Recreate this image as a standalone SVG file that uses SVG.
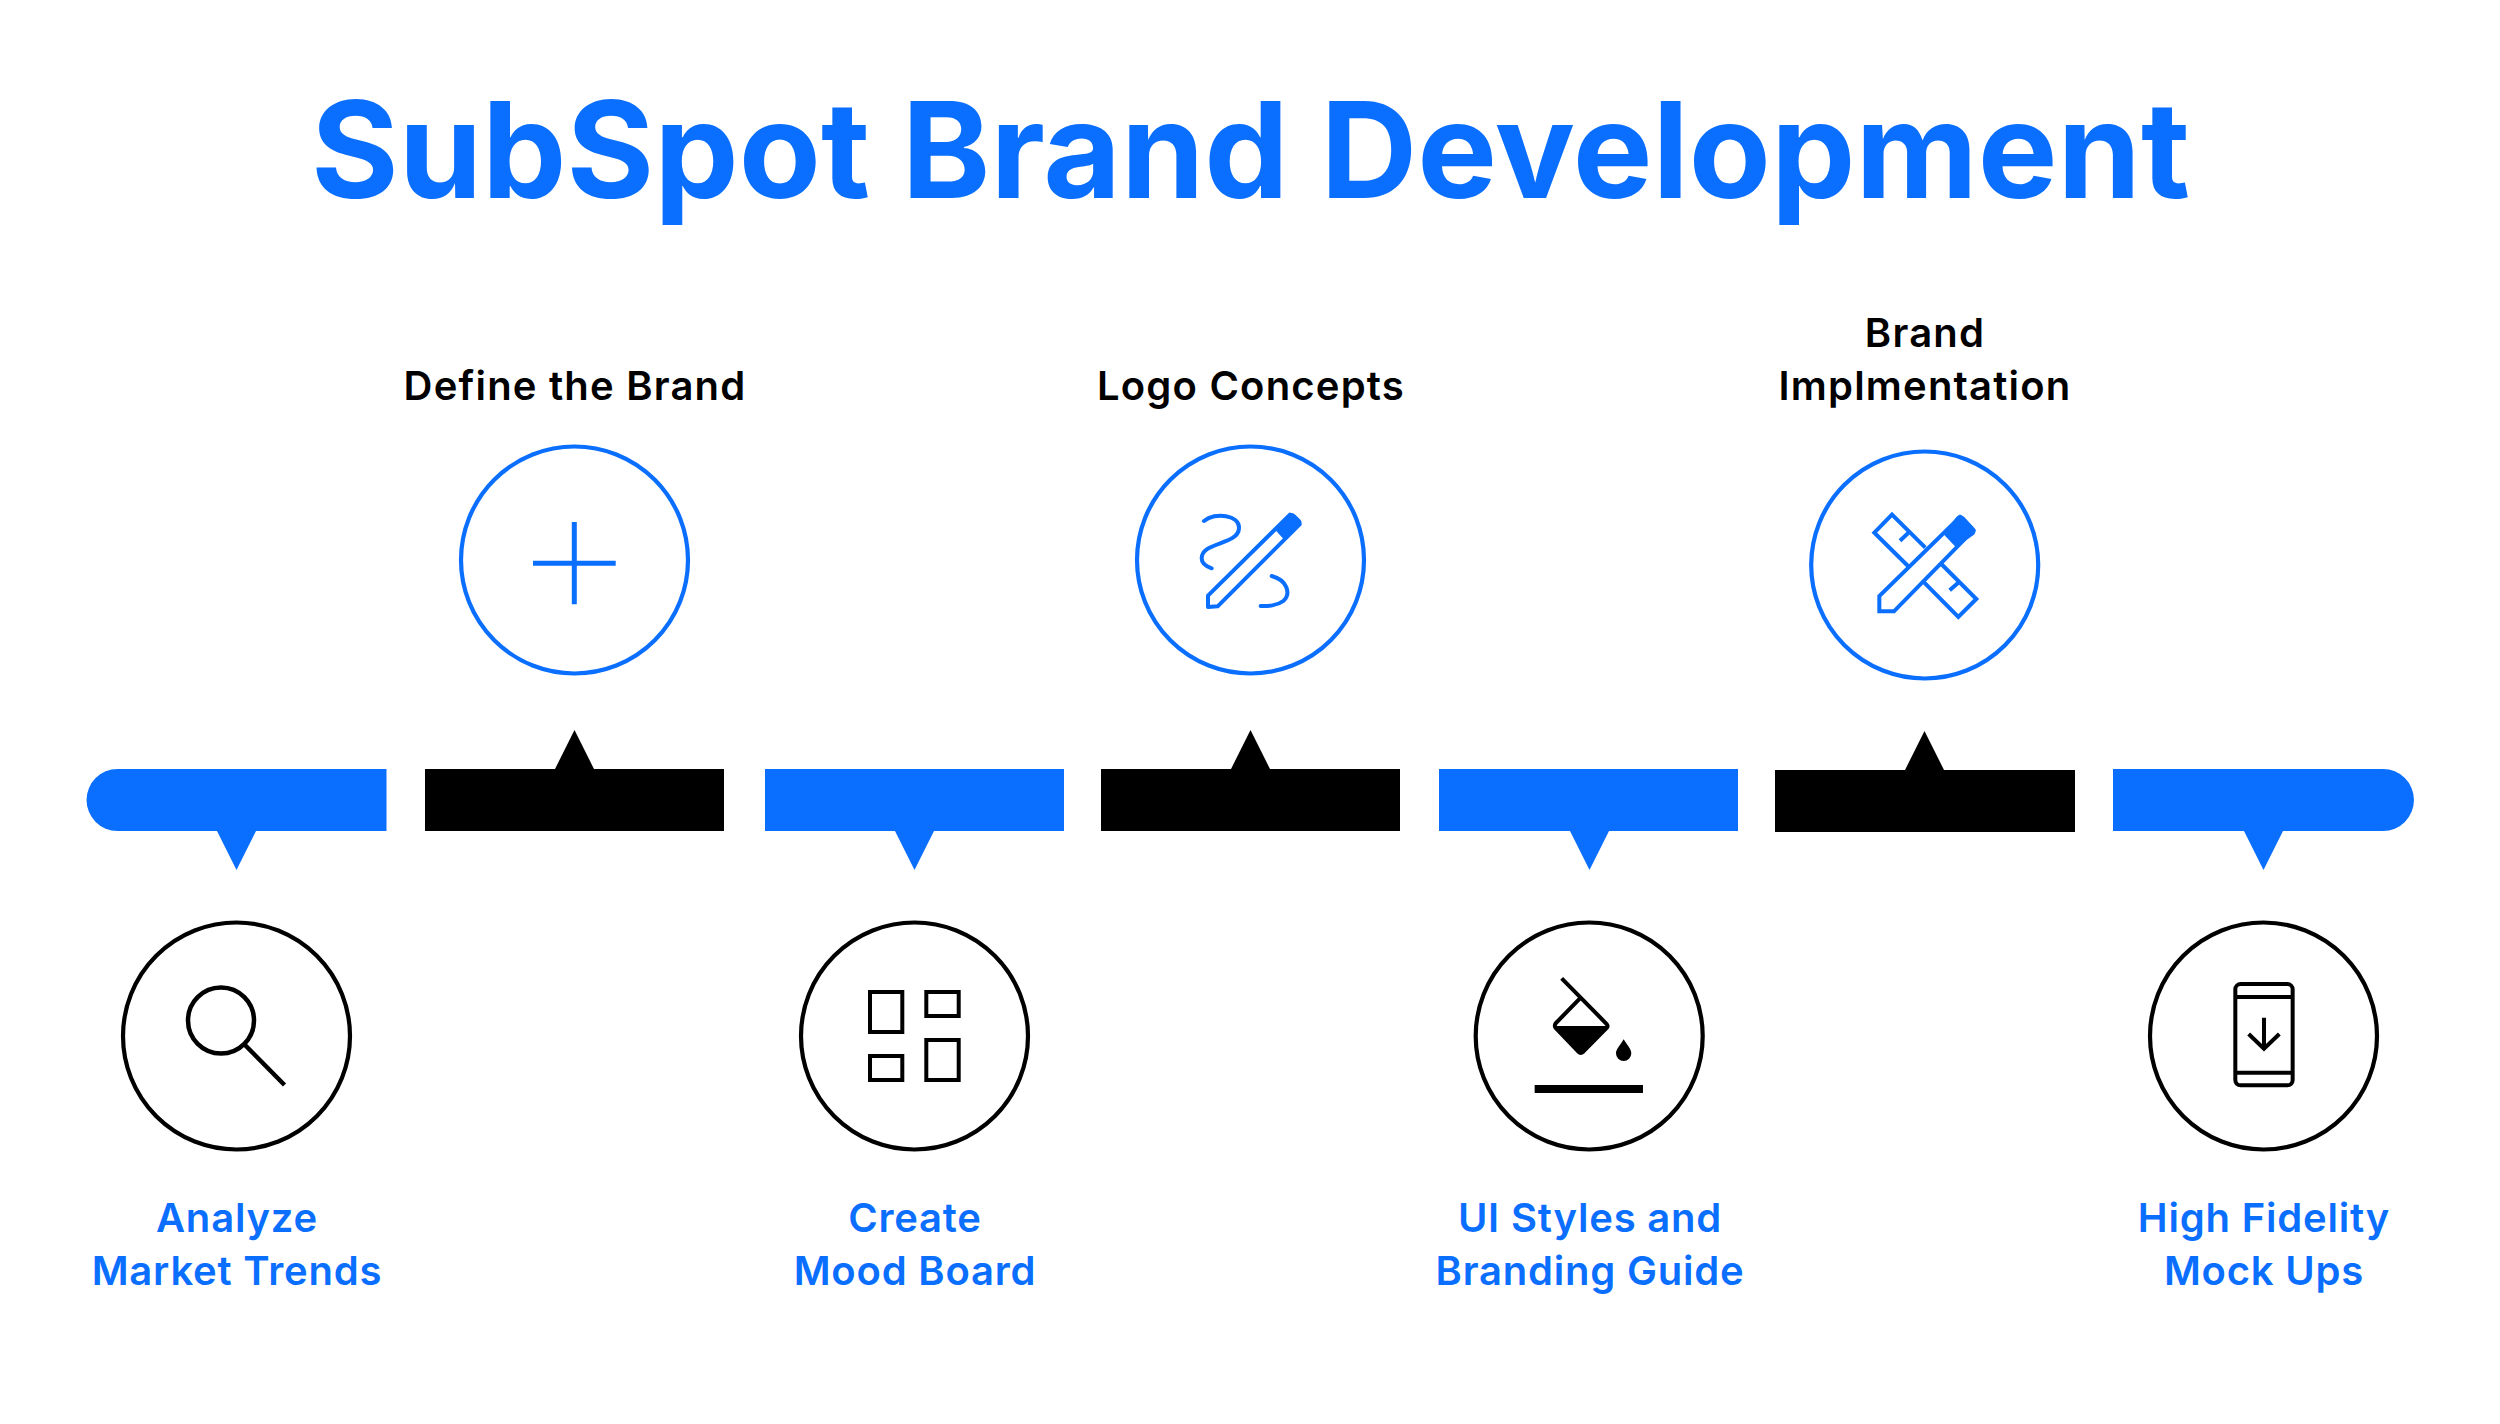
<svg xmlns="http://www.w3.org/2000/svg" width="2500" height="1424" viewBox="0 0 2500 1424">
<style>
text{font-family:"Inter","Liberation Sans",sans-serif;font-weight:600;text-anchor:middle}
.t{font-size:134px;font-weight:700;fill:#0a6eff}
.k{font-size:40px;fill:#000;letter-spacing:1.200px}
.b{font-size:40px;fill:#0a6eff;letter-spacing:.800px}
.cb{fill:#fff;stroke:#0a6eff;stroke-width:4.200}
.ck{fill:#fff;stroke:#000;stroke-width:4.200}
.ib{fill:none;stroke:#0a6eff;stroke-width:12}
.ik{fill:none;stroke:#000;stroke-width:12}
.fb{fill:#0a6eff}
.fk{fill:#000}
</style>
<rect width="2500" height="1424" fill="#fff"/>
<text class="t" x="1250.500" y="197.500">SubSpot Brand Development</text>
<g id="connectors">
<path class="fb" d="M386.500 769V831H256L236.500 870L217 831H117.500A31 31 0 0 1 117.500 769Z"/>
<path class="fk" d="M425 769H555L574.500 730L594 769H724V831H425Z"/>
<path class="fb" d="M765 769H1064V831H934L914.500 870L895 831H765Z"/>
<path class="fk" d="M1101 769H1231L1250.500 730L1270 769H1400V831H1101Z"/>
<path class="fb" d="M1439 769H1738V831H1609L1589.500 870L1570 831H1439Z"/>
<path class="fk" d="M1775 770H1905L1924.500 731L1944 770H2075V832H1775Z"/>
<path class="fb" d="M2113 769H2383A31 31 0 0 1 2383 831H2283L2263.500 870L2244 831H2113Z"/>
</g>
<g id="n1"><circle class="ck" cx="236.500" cy="1036" r="113.500"/>
<circle cx="221" cy="1020.500" r="33" fill="none" stroke="#000" stroke-width="4.500"/><path d="M245 1045L284.500 1085" stroke="#000" stroke-width="4.500"/>
<text class="b" x="237" y="1232">Analyze</text><text class="b" x="237" y="1285">Market Trends</text></g>
<g id="n2"><circle class="cb" cx="574.500" cy="560" r="113.500"/>
<path d="M574.300 522V604.300M533 563.300H615.700" stroke="#0a6eff" stroke-width="5"/>
<text class="k" x="575" y="400">Define the Brand</text></g>
<g id="n3"><circle class="ck" cx="914.500" cy="1036" r="113.500"/>
<path d="M870 992h32.300v40h-32.300zM926.300 992h32.400v24h-32.400zM870 1056h32.300v24h-32.300zM926.300 1040h32.400v40h-32.400z" fill="none" stroke="#000" stroke-width="4"/>
<text class="b" x="915" y="1232">Create</text><text class="b" x="915" y="1285">Mood Board</text></g>
<g id="n4"><circle class="cb" cx="1250.500" cy="560" r="113.500"/>
<g transform="translate(1100 420) scale(.3333)">
<path class="ib" d="M324 561V527L570 284L599 313L353 559Z" stroke-linejoin="round"/>
<path class="fb" d="M528 332L565 285Q575 273 586 284L600 298Q610 308 600 318L550 356Z"/>
<path class="ib" d="M312 303C345 275 420 285 417 325C415 375 305 365 305 415C305 430 320 440 335 445M515 468C560 480 575 520 550 543C530 558 505 558 482 558" stroke-linecap="round"/>
</g>
<text class="k" x="1251" y="400">Logo Concepts</text></g>
<g id="n5"><circle class="ck" cx="1589.200" cy="1036" r="113.500"/>
<g transform="translate(1460 920) scale(.3333)">
<path class="ik" d="M305 175L440 312Q445 318 440 324L370 395Q362 402 355 395L287 324Q282 318 287 310L360 235"/>
<path class="fk" d="M285 318H442L370 396Q362 403 355 396Z"/>
<path class="fk" d="M491 358C505 380 514 388 514 400A23 23 0 0 1 468 400C468 388 478 380 491 358Z"/>
<rect class="fk" x="224" y="495" width="325" height="24"/>
</g>
<text class="b" x="1590" y="1232">UI Styles and</text><text class="b" x="1590" y="1285">Branding Guide</text></g>
<g id="n6"><circle class="cb" cx="1924.700" cy="565" r="113.500"/>
<g transform="translate(1780 420) scale(.3333)">
<path class="ib" d="M436 383L336 284L283 338L384 438M484 432L589 537L535 591L433 488M360 362L384 340M509 511L534 489"/>
<path class="ib" d="M298 574V528L540 291L580 331L342 574Z" stroke-linejoin="miter"/>
<path class="fb" d="M490 342L530 290Q540 280 552 290L580 320Q592 332 582 344L528 382Z"/>
</g>
<text class="k" x="1925" y="347">Brand</text><text class="k" x="1925" y="400">Implmentation</text></g>
<g id="n7"><circle class="ck" cx="2263.500" cy="1036" r="113.500"/>
<g transform="translate(2130 920) scale(.3333)">
<rect class="ik" x="316" y="192" width="172" height="304" rx="16"/>
<path class="ik" d="M316 231H488M316 458H488M402 293V385M356 342L402 386L448 342"/>
</g>
<text class="b" x="2264" y="1232">High Fidelity</text><text class="b" x="2264" y="1285">Mock Ups</text></g>
</svg>
